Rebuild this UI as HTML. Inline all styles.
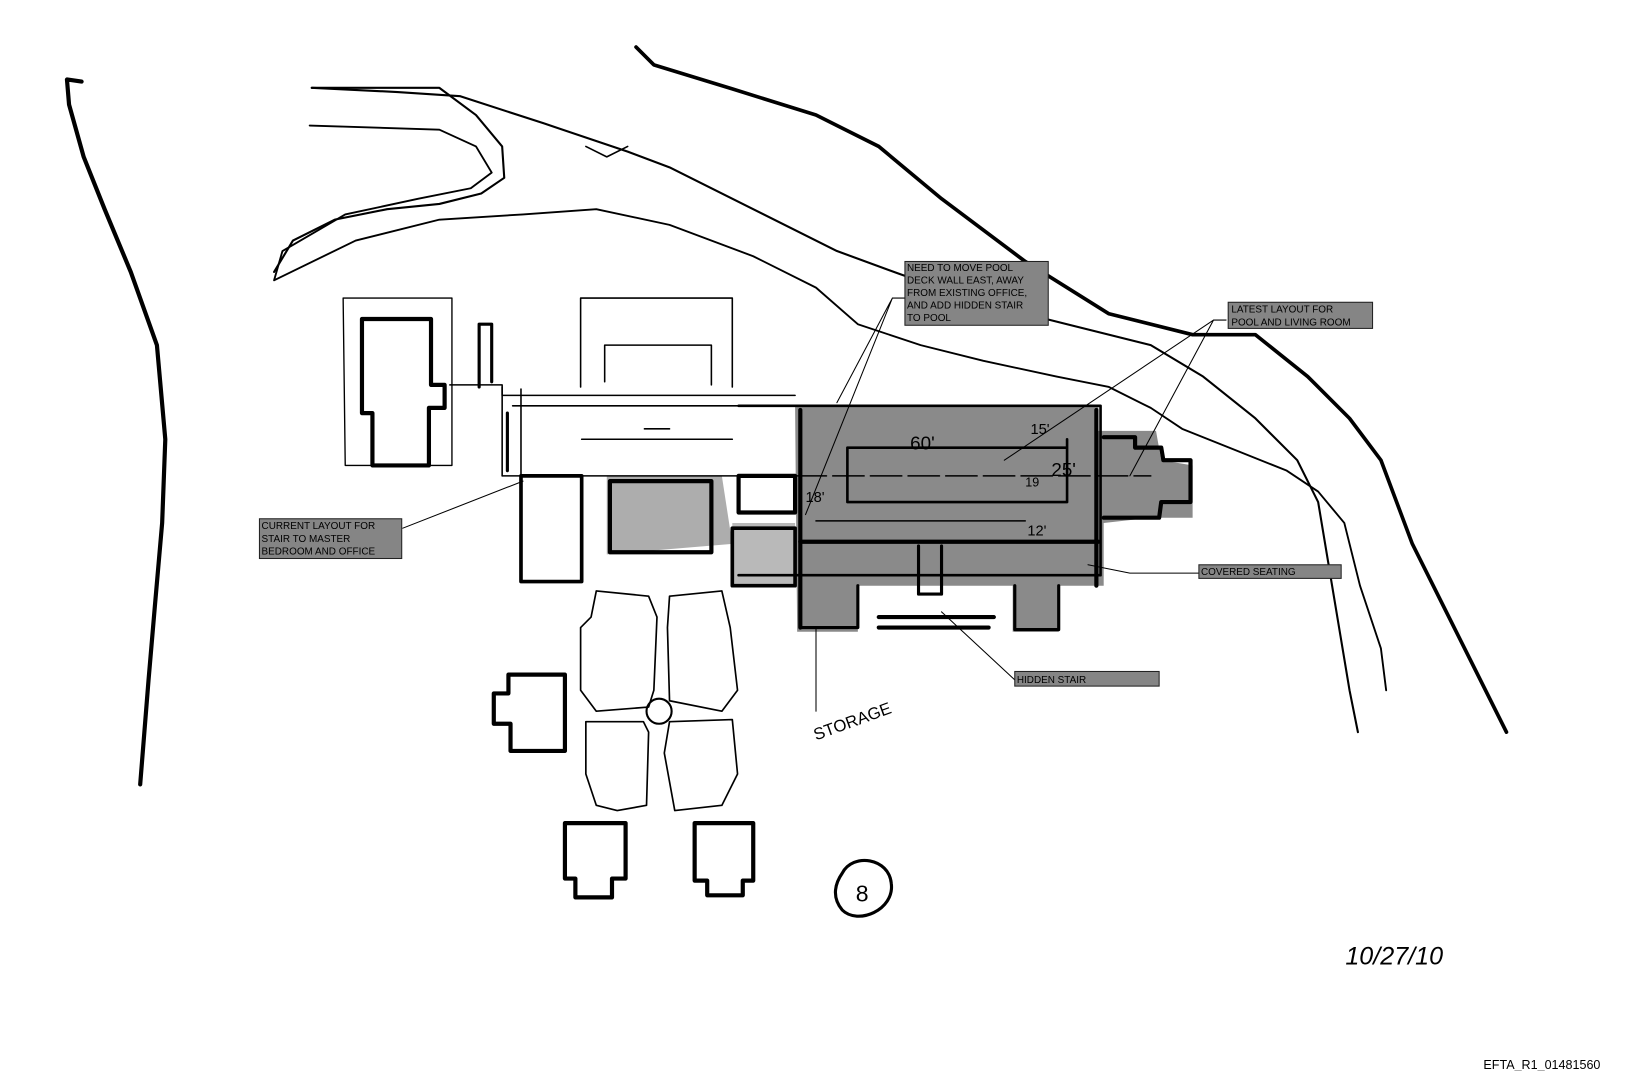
<!DOCTYPE html>
<html><head><meta charset="utf-8"><style>
html,body{margin:0;padding:0;background:#fff;width:1632px;height:1071px;overflow:hidden}
svg{display:block}
text{font-family:"Liberation Sans",sans-serif}
</style></head><body>
<svg width="1632" height="1071" viewBox="0 0 1560 1024" preserveAspectRatio="none" xmlns="http://www.w3.org/2000/svg">
<g fill="none" stroke="#000" stroke-linecap="round" stroke-linejoin="round">
<path d="M78,78 L64,76 L66,100 L80,150 L100,200 L125,260 L150,330 L158,420 L155,500 L148,580 L142,650 L138,700 L134,750" stroke-width="4"/>
<path d="M608,45 L625,62 L700,85 L780,110 L840,140 L900,190 L980,250 L1060,300 L1140,320 L1200,320 L1250,360 L1290,400 L1320,440 L1350,520 L1380,580 L1410,640 L1440,700" stroke-width="3.5"/>
<path d="M298,84 L380,88 L440,92 L520,118 L600,145 L640,160 L720,200 L800,240 L860,262 L940,290 L1020,310 L1100,330 L1150,360 L1200,400 L1240,440 L1260,480 L1270,540 L1280,600 L1290,660 L1298,700" stroke-width="2"/>
<path d="M298,84 L420,84 L455,110 L480,140 L482,170 L460,185 L420,195 L370,200 L320,210 L280,230 L262,260" stroke-width="2"/>
<path d="M296,120 L420,124 L455,140 L470,165 L450,180 L400,190 L330,205 L270,240 L262,268 M262,268 L340,230 L420,210 L500,205 L570,200 L640,215 L720,245 L780,275 L820,310 L880,330 L940,345 L1010,360 L1060,370 L1100,390 L1130,410 L1180,430 L1230,450 L1260,470 L1285,500 L1300,560 L1320,620 L1325,660" stroke-width="1.8"/>
<path d="M560,140 L580,150 L600,140" stroke-width="1.5"/>
</g>
<g fill="#8a8a8a" stroke="none">
<path d="M760,388 L1050,388 L1050,412 L1105,412 L1110,440 L1140,445 L1140,495 L1100,495 L1055,500 L1055,560 L1012,560 L1012,604 L968,604 L968,560 L820,560 L820,604 L762,604 Z"/>
<path d="M580,455 L690,455 L700,520 L580,530 Z" opacity="0.7"/>
<path d="M700,500 L760,500 L760,560 L700,560 Z" opacity="0.6"/>
</g>
<g fill="none" stroke="#000" stroke-linecap="round" stroke-linejoin="round">
<path d="M706,388 L1052,388 L1052,550 L706,550" stroke-width="2.5"/>
<path d="M765,392 L765,600 M1048,392 L1048,560" stroke-width="4"/>
<path d="M810,428 L1020,428 M810,480 L1020,480 M810,428 L810,480 M1020,420 L1020,480" stroke-width="2.5"/>
<path d="M760,455 L1100,455" stroke-width="1.5" stroke-dasharray="30,6"/>
<path d="M780,498 L980,498" stroke-width="1.5"/>
<path d="M765,518 L1050,518" stroke-width="4"/>
<path d="M765,600 L820,600 L820,560 M970,560 L970,602 L1012,602 L1012,560" stroke-width="3"/>
<path d="M878,522 L878,568 L900,568 L900,522" stroke-width="3"/>
<path d="M840,590 L950,590 M840,600 L945,600" stroke-width="4"/>
<path d="M1055,418 L1085,418 L1085,428 L1110,428 L1112,440 L1138,440 L1138,480 L1110,480 L1108,495 L1055,495" stroke-width="4"/>
<path d="M706,455 L760,455 L760,490 L706,490 Z" stroke-width="4"/>
<path d="M700,505 L760,505 L760,560 L700,560 Z" stroke-width="3.5"/>
<path d="M583,460 L680,460 L680,528 L583,528 Z" stroke-width="4"/>
<path d="M498,455 L556,455 L556,556 L498,556 Z" stroke-width="3.5"/>
<path d="M430,368 L480,368 L480,378 L760,378 M490,388 L760,388 M480,455 L760,455" stroke-width="1.5"/>
<path d="M480,370 L480,455 M498,372 L498,455" stroke-width="1.5"/>
<path d="M555,285 L700,285 L700,370 M555,285 L555,370 M578,330 L680,330 L680,368 M578,330 L578,365" stroke-width="1.5"/>
<path d="M328,285 L432,285 L432,445 L330,445 Z" stroke-width="1.3"/>
<path d="M346,305 L412,305 L412,368 L425,368 L425,390 L410,390 L410,445 L356,445 L356,395 L346,395 Z" stroke-width="4"/>
<path d="M458,310 L470,310 L470,365 M458,310 L458,370 M485,395 L485,450" stroke-width="3"/>
<path d="M556,420 L700,420 M616,410 L640,410" stroke-width="1.5"/>
<path d="M570,565 L565,590 L555,600 L555,660 L570,680 L620,676 L625,660 L628,590 L620,570 Z" stroke-width="1.6"/>
<path d="M640,570 L690,565 L698,600 L705,660 L690,680 L640,670 L638,600 Z" stroke-width="1.6"/>
<path d="M560,690 L615,690 L620,700 L618,770 L590,775 L570,770 L560,740 Z" stroke-width="1.6"/>
<path d="M640,690 L700,688 L705,740 L690,770 L645,775 L635,720 Z" stroke-width="1.6"/>
<circle cx="630" cy="680" r="12" stroke-width="2"/>
<path d="M486,645 L540,645 L540,718 L488,718 L488,692 L472,692 L472,663 L486,663 Z" stroke-width="4"/>
<path d="M540,787 L598,787 L598,840 L585,840 L585,858 L550,858 L550,840 L540,840 Z" stroke-width="4"/>
<path d="M664,787 L720,787 L720,842 L710,842 L710,856 L676,856 L676,842 L664,842 Z" stroke-width="4"/>
<path d="M805,835 C815,815 850,820 852,845 C855,870 820,885 805,870 C795,858 798,845 805,835" stroke-width="3"/>
<path d="M853,285 L865,285 M853,285 L770,492 M853,285 L800,385" stroke-width="1"/>
<path d="M1160,306 L1172,306 M1160,306 L960,440 M1160,306 L1080,455" stroke-width="1"/>
<path d="M385,505 L500,460" stroke-width="1"/>
<path d="M1040,540 L1080,548 L1147,548" stroke-width="1"/>
<path d="M900,585 L970,650" stroke-width="1"/>
<path d="M780,600 L780,680" stroke-width="1"/>
</g>
<g font-family="Liberation Sans" fill="#000">
<text x="870" y="430" font-size="18">60'</text>
<text x="1005" y="455" font-size="18">25'</text>
<text x="985" y="415" font-size="14">15'</text>
<text x="770" y="480" font-size="14">18'</text>
<text x="980" y="465" font-size="12">19</text>
<text x="982" y="512" font-size="14">12'</text>
<text x="780" y="708" font-size="16" transform="rotate(-20 780 708)">STORAGE</text>
<text x="1286" y="922" font-size="24" font-style="italic">10/27/10</text>
<text x="818" y="862" font-size="22">8</text>
<text x="1418" y="1022" font-size="12">EFTA_R1_01481560</text>
</g>
<g font-size="9.5" fill="#000">
<rect x="865" y="250" width="137" height="61" fill="#858585" stroke="#222"/>
<text x="867" y="259">NEED TO MOVE POOL</text><text x="867" y="271">DECK WALL EAST, AWAY</text><text x="867" y="283">FROM EXISTING OFFICE,</text><text x="867" y="295">AND ADD HIDDEN STAIR</text><text x="867" y="307">TO POOL</text>
<rect x="1174" y="289" width="138" height="25" fill="#858585" stroke="#222"/>
<text x="1177" y="299">LATEST LAYOUT FOR</text><text x="1177" y="311">POOL AND LIVING ROOM</text>
<rect x="248" y="496" width="136" height="38" fill="#858585" stroke="#222"/>
<text x="250" y="506">CURRENT LAYOUT FOR</text><text x="250" y="518">STAIR TO MASTER</text><text x="250" y="530">BEDROOM AND OFFICE</text>
<rect x="1146" y="540" width="136" height="13" fill="#858585" stroke="#222"/>
<text x="1148" y="550">COVERED SEATING</text>
<rect x="970" y="642" width="138" height="14" fill="#858585" stroke="#222"/>
<text x="972" y="653">HIDDEN STAIR</text>
</g>
</svg>
</body></html>
